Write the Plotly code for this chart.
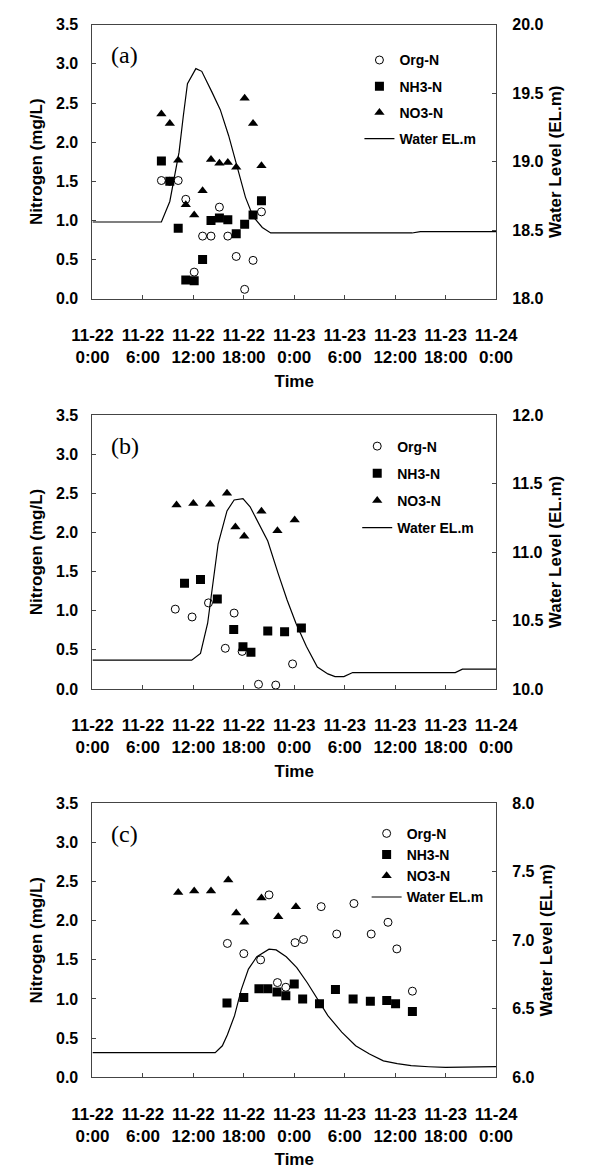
import plotly.graph_objects as go

# Hours elapsed since 11-22 0:00
tick_hours = [0, 6, 12, 18, 24, 30, 36, 42, 48]
tick_text = ["11-22<br>0:00", "11-22<br>6:00", "11-22<br>12:00", "11-22<br>18:00",
             "11-23<br>0:00", "11-23<br>6:00", "11-23<br>12:00", "11-23<br>18:00",
             "11-24<br>0:00"]

# ---- Panel (a) ----
t_a = [8.2, 9.2, 10.2, 11.1, 12.1, 13.1, 14.1, 15.1, 16.1, 17.1, 18.1, 19.1, 20.1]
org_a = [1.51, 1.50, 1.51, 1.27, 0.34, 0.80, 0.80, 1.17, 0.80, 0.54, 0.12, 0.49, 1.11]
nh3_a = [1.76, 1.50, 0.90, 0.24, 0.23, 0.50, 1.00, 1.03, 1.01, 0.83, 0.95, 1.07, 1.25]
no3_a = [2.36, 2.24, 1.77, 1.20, 1.07, 1.38, 1.78, 1.73, 1.74, 1.68, 2.56, 2.24, 1.70]
wl_t_a = [0, 8.2, 9.2, 10.3, 10.8, 11.3, 12.3, 13.0, 14.2, 15.2, 16.2, 17.2, 18.2,
          19.1, 20.2, 21.2, 38, 39, 48]
wl_a = [18.56, 18.56, 18.71, 19.07, 19.33, 19.57, 19.68, 19.66, 19.51, 19.38, 19.19,
        18.96, 18.74, 18.60, 18.52, 18.48, 18.48, 18.49, 18.49]

# ---- Panel (b) ----
t_org_b = [9.85, 11.85, 13.8, 15.8, 16.85, 17.8, 19.75, 21.8, 23.8]
org_b = [1.02, 0.92, 1.10, 0.52, 0.97, 0.48, 0.06, 0.05, 0.32]
t_nh3_b = [10.95, 12.85, 14.85, 16.8, 17.9, 18.85, 20.85, 22.85, 24.85]
nh3_b = [1.35, 1.40, 1.15, 0.76, 0.54, 0.47, 0.74, 0.73, 0.78]
t_no3_b = [10.0, 12.0, 14.0, 16.0, 17.0, 18.05, 20.1, 22.0, 24.05]
no3_b = [2.35, 2.37, 2.36, 2.50, 2.07, 1.95, 2.27, 2.02, 2.16]
wl_t_b = [0, 11.8, 12.85, 13.7, 14.95, 16.0, 16.85, 17.9, 18.75, 19.8, 20.85, 22.1,
          23.15, 24.2, 25.45, 26.75, 28.0, 28.85, 29.9, 30.95, 43.15, 44.0, 48]
wl_b = [10.21, 10.21, 10.26, 10.48, 11.06, 11.30, 11.38, 11.39, 11.33, 11.21, 11.08,
        10.84, 10.65, 10.48, 10.31, 10.16, 10.11, 10.09, 10.09, 10.12, 10.12, 10.145,
        10.145]

# ---- Panel (c) ----
t_org_c = [16.05, 18.0, 20.0, 21.0, 22.0, 23.0, 24.1, 25.1, 27.2, 29.05, 31.1, 33.15,
           35.15, 36.2, 38.05]
org_c = [1.71, 1.58, 1.50, 2.33, 1.21, 1.15, 1.72, 1.76, 2.18, 1.83, 2.22, 1.83, 1.98,
         1.64, 1.10]
t_nh3_c = [16.0, 18.0, 19.8, 20.85, 21.95, 23.0, 24.0, 25.0, 27.0, 28.9, 31.0, 33.05,
           35.0, 36.05, 38.05]
nh3_c = [0.95, 1.02, 1.13, 1.13, 1.09, 1.04, 1.19, 1.00, 0.94, 1.12, 1.00, 0.97, 0.98,
         0.94, 0.84]
t_no3_c = [10.2, 12.1, 14.1, 16.15, 17.1, 18.05, 20.1, 22.1, 24.2]
no3_c = [2.36, 2.38, 2.38, 2.52, 2.10, 1.98, 2.29, 2.05, 2.18]
wl_t_c = [0, 14.6, 15.45, 16.05, 16.9, 17.7, 18.55, 19.55, 21.0, 21.85, 23.05, 24.3,
          25.55, 26.8, 28.0, 29.65, 31.3, 32.95, 34.6, 36.25, 37.9, 40.0, 42.0, 48]
wl_c = [6.18, 6.18, 6.23, 6.31, 6.45, 6.64, 6.79, 6.88, 6.935, 6.93, 6.88, 6.80, 6.69,
        6.57, 6.45, 6.33, 6.23, 6.17, 6.12, 6.10, 6.085, 6.077, 6.072, 6.078]

panels = [
    dict(tag="(a)", org=(t_a, org_a), nh3=(t_a, nh3_a), no3=(t_a, no3_a),
         wl=(wl_t_a, wl_a), wl_range=[18, 20], dom=[0.74851, 0.98551],
         legend_x=0.612, legend_y=0.9685, gap=5),
    dict(tag="(b)", org=(t_org_b, org_b), nh3=(t_nh3_b, nh3_b), no3=(t_no3_b, no3_b),
         wl=(wl_t_b, wl_b), wl_range=[10, 12], dom=[0.41091, 0.64791],
         legend_x=0.608, legend_y=0.6345, gap=6),
    dict(tag="(c)", org=(t_org_c, org_c), nh3=(t_nh3_c, nh3_c), no3=(t_no3_c, no3_c),
         wl=(wl_t_c, wl_c), wl_range=[6, 8], dom=[0.07502, 0.31202],
         legend_x=0.625, legend_y=0.2995, gap=0),
]

FONT = "Arial, 'Liberation Sans', sans-serif"
AXCOL = "#444444"
x_dom = [0.12919, 0.85906]

fig = go.Figure()
layout = dict(width=596, height=1173, margin=dict(l=0, r=0, t=0, b=0),
              plot_bgcolor="white", paper_bgcolor="white", showlegend=True,
              font=dict(family=FONT, color="black"), annotations=[])

for i, p in enumerate(panels):
    k = i + 1
    xname = "x" if k == 1 else f"x{k}"
    y_wl = f"y{2 * k - 1}" if k > 1 else "y"
    y_n = f"y{2 * k}"
    leg = "legend" if k == 1 else f"legend{k}"

    fig.add_trace(go.Scatter(x=p["wl"][0], y=p["wl"][1], mode="lines", name="Water EL.m",
                             line=dict(color="black", width=1.2), xaxis=xname, yaxis=y_wl,
                             legend=leg, legendgroup=f"w{k}", legendrank=4))
    fig.add_trace(go.Scatter(x=p["org"][0], y=p["org"][1], mode="markers", name="Org-N",
                             marker=dict(symbol="circle-open", size=8, color="black",
                                         line=dict(width=1)),
                             xaxis=xname, yaxis=y_n, legend=leg, legendgroup=f"o{k}",
                             legendrank=1))
    fig.add_trace(go.Scatter(x=p["nh3"][0], y=p["nh3"][1], mode="markers", name="NH3-N",
                             marker=dict(symbol="square", size=9, color="black"),
                             xaxis=xname, yaxis=y_n, legend=leg, legendgroup=f"n{k}",
                             legendrank=2))
    fig.add_trace(go.Scatter(x=p["no3"][0], y=p["no3"][1], mode="markers", name="NO3-N",
                             marker=dict(symbol="triangle-up", size=9, color="black"),
                             xaxis=xname, yaxis=y_n, legend=leg, legendgroup=f"t{k}",
                             legendrank=3))

    yfont = dict(family=FONT, size=16, color="black", weight="bold")
    xfont = dict(family=FONT, size=17, color="black", weight="bold")
    titlefont = dict(family=FONT, size=17, color="black", weight="bold")
    axis_common = dict(showline=True, linecolor=AXCOL, linewidth=1, ticks="inside",
                       ticklen=4, tickcolor=AXCOL, showgrid=False, zeroline=False)

    layout["xaxis" if k == 1 else f"xaxis{k}"] = dict(
        domain=x_dom, anchor=y_wl, range=[0, 48], tickvals=tick_hours,
        ticktext=tick_text, mirror=True, ticklabelstandoff=21, tickfont=xfont,
        title=dict(text="Time", font=titlefont, standoff=8), **axis_common)
    layout["yaxis" if k == 1 else f"yaxis{2 * k - 1}"] = dict(
        domain=p["dom"], anchor=xname, side="right", range=p["wl_range"], dtick=0.5,
        tickformat=".1f", ticklabelstandoff=12, tickfont=yfont,
        title=dict(text="Water Level (EL.m)", font=titlefont, standoff=6), **axis_common)
    layout[f"yaxis{2 * k}"] = dict(
        domain=p["dom"], anchor=xname, overlaying=y_wl, side="left", range=[0, 3.5],
        dtick=0.5, tickformat=".1f", ticklabelstandoff=10, tickfont=yfont,
        title=dict(text="Nitrogen (mg/L)", font=titlefont, standoff=9), **axis_common)

    layout[leg] = dict(x=p["legend_x"], y=p["legend_y"], xanchor="left", yanchor="top",
                       bgcolor="rgba(0,0,0,0)", tracegroupgap=p["gap"],
                       traceorder="grouped",
                       font=dict(family=FONT, size=14, color="black", weight="bold"))

    layout["annotations"].append(dict(
        text=p["tag"], xref="paper", yref="paper", x=0.188,
        y=p["dom"][1] - 0.0265, xanchor="center", yanchor="middle", showarrow=False,
        font=dict(family="'Liberation Serif', 'DejaVu Serif', serif", size=24,
                  color="black")))

fig.update_layout(**layout)
fig.write_html("out.html")
